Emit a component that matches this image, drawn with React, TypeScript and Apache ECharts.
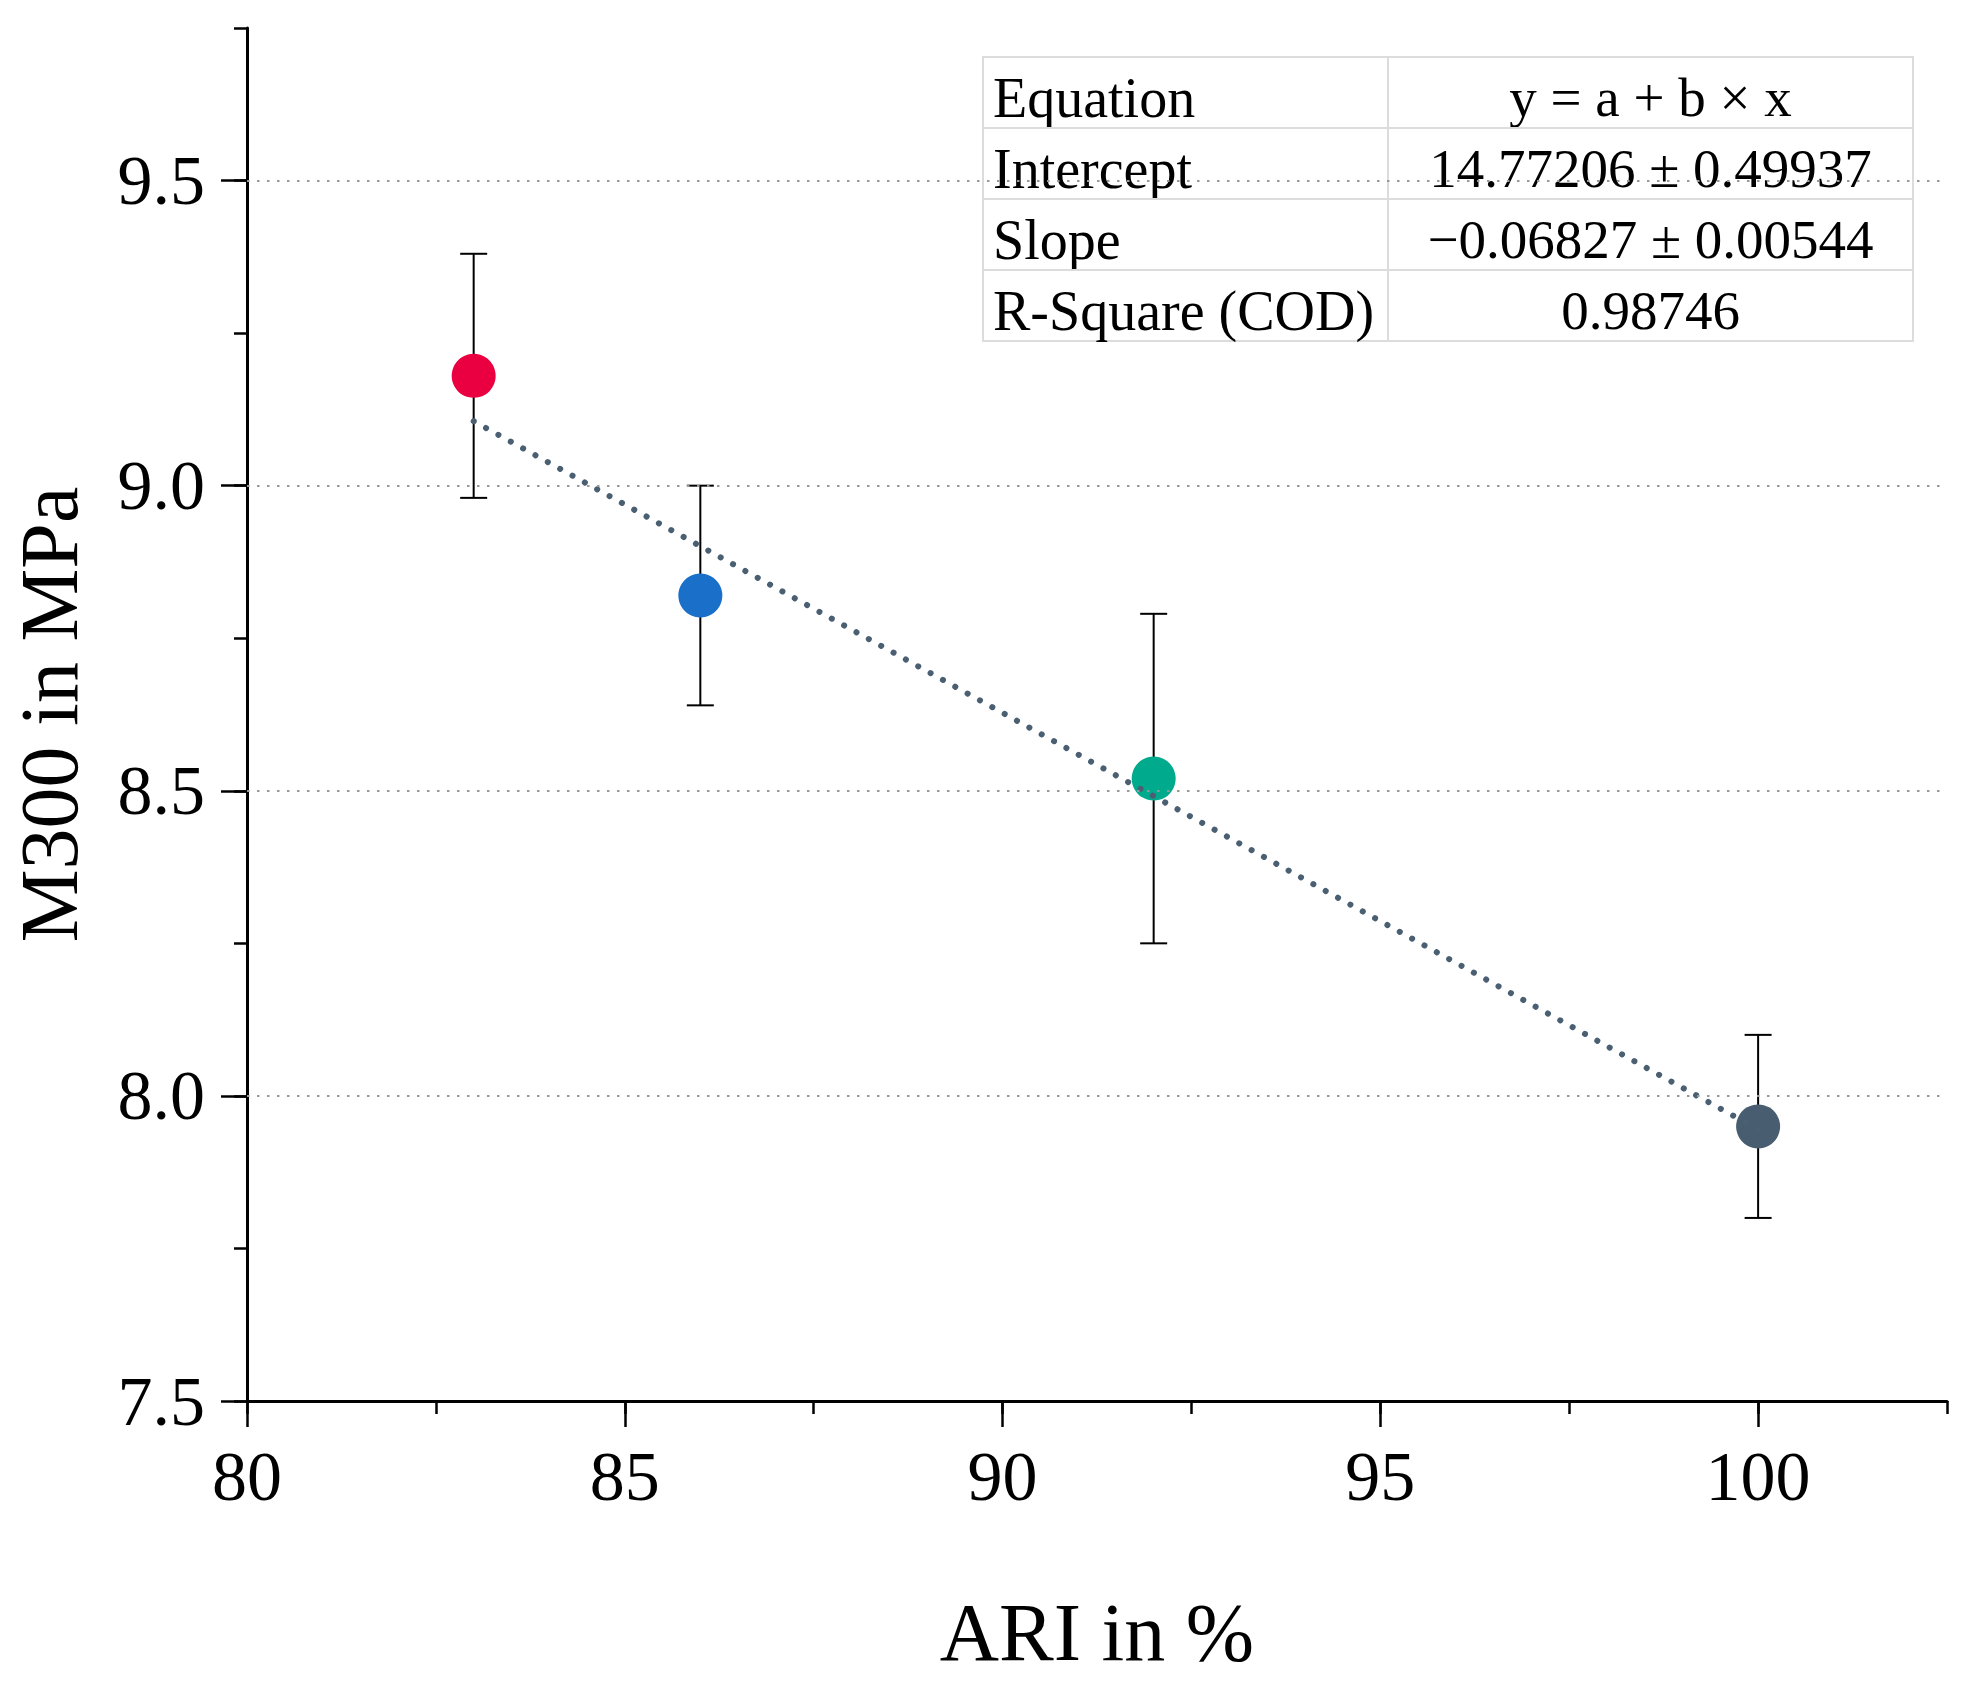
import React, { useEffect, useRef } from 'react';
import * as echarts from 'echarts';

const ariValues = [83, 86, 92, 100];
const m300Values = [9.18, 8.82, 8.52, 7.95];
const m300Errors = [0.2, 0.18, 0.27, 0.15];
const pointColors = ['#EA0040', '#1A6FC8', '#00AA8D', '#485E70'];
const fitIntercept = 14.77206;
const fitSlope = -0.06827;
const fitRange = [83, 100];
const xTickLabels = [80, 85, 90, 95, 100];
const yTickLabels = [7.5, 8.0, 8.5, 9.0, 9.5];
const gridValues = [8.0, 8.5, 9.0, 9.5];
const tableRows = [
  ['Equation', 'y = a + b × x'],
  ['Intercept', '14.77206 ± 0.49937'],
  ['Slope', '−0.06827 ± 0.00544'],
  ['R-Square (COD)', '0.98746'],
];

const FONT = "'Liberation Serif', 'Times New Roman', serif";

function isIn(list: number[], v: number) {
  return list.some((t) => Math.abs(t - v) < 1e-6);
}

export default function App() {
  const ref = useRef<HTMLDivElement>(null);
  useEffect(() => {
    if (!ref.current) return;
    const chart = echarts.init(ref.current, null, { renderer: 'svg' });

    const tLeft = 983, tTop = 57, tWidth = 930, rowH = 71, tDiv = 1388;
    const tHeight = rowH * tableRows.length;
    const tableChildren: any[] = [
      { type: 'rect', shape: { x: tLeft, y: tTop, width: tWidth, height: tHeight }, style: { fill: '#fff', stroke: '#dcdcdc', lineWidth: 2 } },
      { type: 'line', shape: { x1: tDiv, y1: tTop, x2: tDiv, y2: tTop + tHeight }, style: { stroke: '#dcdcdc', lineWidth: 2 } },
    ];
    tableRows.forEach((row, i) => {
      if (i > 0) {
        tableChildren.push({ type: 'line', shape: { x1: tLeft, y1: tTop + i * rowH, x2: tLeft + tWidth, y2: tTop + i * rowH }, style: { stroke: '#dcdcdc', lineWidth: 2 } });
      }
      const cy = tTop + i * rowH + rowH / 2 + 5;
      tableChildren.push({ type: 'text', x: tLeft + 10, y: cy, style: { text: row[0], fill: '#000', font: `56px ${FONT}`, textAlign: 'left', textVerticalAlign: 'middle' } });
      tableChildren.push({ type: 'text', x: (tDiv + tLeft + tWidth) / 2, y: cy, style: { text: row[1], fill: '#000', font: `55px ${FONT}`, textAlign: 'center', textVerticalAlign: 'middle' } });
    });

    const axisLineStyle = { color: '#000', width: 3 };
    const tickLineStyle = { color: '#000', width: 2.5 };

    const option: any = {
      animation: false,
      backgroundColor: '#fff',
      textStyle: { fontFamily: FONT },
      grid: { left: 246, right: 32, top: 28, bottom: 283 },
      xAxis: [
        {
          type: 'value', min: 80, max: 102.5, interval: 2.5,
          axisLine: { show: true, lineStyle: axisLineStyle },
          axisTick: { show: true, length: 13, lineStyle: tickLineStyle },
          axisLabel: { formatter: (v: number) => (isIn(xTickLabels, v) ? String(v) : ''), fontSize: 70, fontFamily: FONT, color: '#000', margin: 40 },
          splitLine: { show: false },
          name: 'ARI in %', nameLocation: 'middle', nameGap: 190,
          nameTextStyle: { fontSize: 82, fontFamily: FONT, color: '#000' },
        },
        {
          type: 'value', min: 80, max: 102.5, interval: 5, position: 'bottom',
          axisLine: { show: false },
          axisTick: { show: true, length: 26, customValues: xTickLabels, lineStyle: tickLineStyle },
          axisLabel: { show: false },
          splitLine: { show: false },
        },
      ],
      yAxis: [
        {
          type: 'value', min: 7.5, max: 9.75, interval: 0.25,
          axisLine: { show: true, lineStyle: axisLineStyle },
          axisTick: { show: true, length: 13, lineStyle: tickLineStyle },
          axisLabel: { formatter: (v: number) => (isIn(yTickLabels, v) ? v.toFixed(1) : ''), fontSize: 70, fontFamily: FONT, color: '#000', margin: 42 },
          splitLine: { show: false },
          name: 'M300 in MPa', nameLocation: 'middle', nameGap: 157,
          nameTextStyle: { fontSize: 82, fontFamily: FONT, color: '#000' },
        },
        {
          type: 'value', min: 7.5, max: 9.75, interval: 0.5, position: 'left',
          axisLine: { show: false },
          axisTick: { show: true, length: 26, customValues: yTickLabels, lineStyle: tickLineStyle },
          axisLabel: { show: false },
          splitLine: { show: false },
        },
      ],
      series: [
        {
          type: 'custom',
          z: 1,
          xAxisIndex: 0, yAxisIndex: 0,
          data: ariValues.map((x, i) => [x, m300Values[i] - m300Errors[i], m300Values[i] + m300Errors[i]]),
          encode: { x: 0, y: [1, 2] },
          renderItem: (params: any, api: any) => {
            const x = api.value(0);
            const lo = api.coord([x, api.value(1)]);
            const hi = api.coord([x, api.value(2)]);
            const hw = 13.5;
            const st = { stroke: '#000', lineWidth: 2 };
            return {
              type: 'group',
              children: [
                { type: 'line', shape: { x1: lo[0], y1: lo[1], x2: hi[0], y2: hi[1] }, style: st },
                { type: 'line', shape: { x1: lo[0] - hw, y1: lo[1], x2: lo[0] + hw, y2: lo[1] }, style: st },
                { type: 'line', shape: { x1: hi[0] - hw, y1: hi[1], x2: hi[0] + hw, y2: hi[1] }, style: st },
              ],
            };
          },
          markLine: {
            silent: true,
            symbol: ['none', 'none'],
            label: { show: false },
            lineStyle: { color: '#999', width: 2, type: [2.5, 7.5] },
            data: gridValues.map((v) => ({ yAxis: v })),
          },
        },
        {
          type: 'scatter',
          z: 3,
          xAxisIndex: 0, yAxisIndex: 0,
          symbolSize: 44,
          data: ariValues.map((x, i) => ({ value: [x, m300Values[i]], itemStyle: { color: pointColors[i], opacity: 1 } })),
        },
        {
          type: 'line',
          z: 4,
          xAxisIndex: 0, yAxisIndex: 0,
          symbol: 'none',
          showSymbol: false,
          data: fitRange.map((x) => [x, fitIntercept + fitSlope * x]),
          lineStyle: { color: '#4A5F72', width: 6, type: [0.1, 14], cap: 'round' },
        },
      ],
      graphic: [{ type: 'group', z: 100, children: tableChildren }],
    };
    chart.setOption(option);
    return () => chart.dispose();
  }, []);
  return <div ref={ref} style={{ position: 'fixed', left: 0, top: 0, width: 1979, height: 1684, background: '#fff' }} />;
}
